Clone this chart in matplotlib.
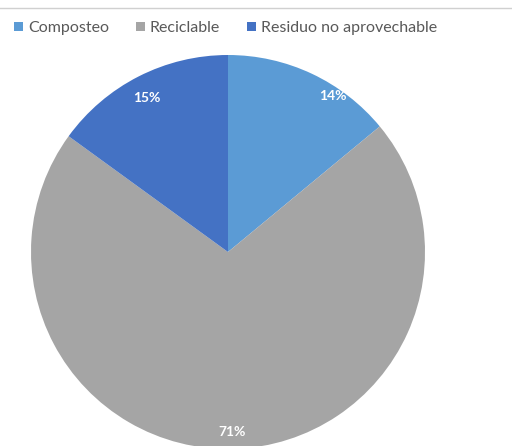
import matplotlib.pyplot as plt
from matplotlib.lines import Line2D

categorias = ["Composteo", "Reciclable", "Residuo no aprovechable"]
porcentajes = [14, 71, 15]
colores = ["#5B9BD5", "#A5A5A5", "#4472C4"]

plt.rcParams["font.family"] = ["Lato", "DejaVu Sans"]

fig = plt.figure(figsize=(5.12, 4.46), dpi=100)
ax = fig.add_axes([0, 0, 1, 1])

wedges, texts, autotexts = ax.pie(
    porcentajes,
    colors=colores,
    startangle=90,
    counterclock=False,
    radius=1,
    autopct="%d%%",
    pctdistance=0.92,
    textprops=dict(color="white", fontsize=10, fontweight="bold"),
)

# posiciones de etiquetas como en Excel (extremo interior)
pos_etiquetas = [(0.53, 0.79), (0.02, -0.915), (-0.41, 0.78)]
for t, (x, y) in zip(autotexts, pos_etiquetas):
    t.set_position((x, y))

# escala: radio = 197 px, centro en (228, 252) desde arriba
r = 197
ax.set_xlim(-228 / r, (512 - 228) / r)
ax.set_ylim(-(446 - 252) / r, 252 / r)
ax.set_aspect("equal")
ax.axis("off")

ax.legend(
    wedges, categorias,
    loc="upper left", bbox_to_anchor=(0.0, 0.985), bbox_transform=fig.transFigure,
    ncol=3, frameon=False, fontsize=11.5, handlelength=0.55, handleheight=0.55,
    handletextpad=0.3, columnspacing=1.7, labelcolor="#595959",
)

fig.add_artist(Line2D([0, 1], [0.982, 0.982], color="#D0D0D0", lw=1, transform=fig.transFigure))

plt.savefig("out.png", dpi=100)
